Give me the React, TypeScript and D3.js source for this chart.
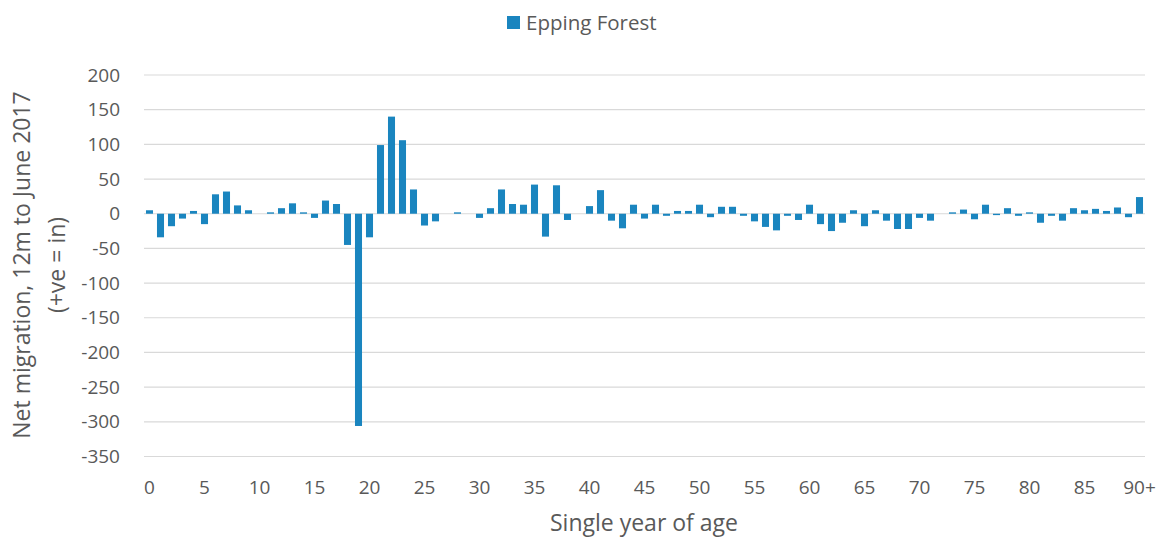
import React, { useEffect, useRef } from "react";
import * as d3 from "d3";

const categories: string[] = [...Array.from({ length: 90 }, (_, i) => String(i)), "90+"];

const values: number[] = [
  5, -34, -18, -7, 4, -15, 28, 32, 12, 5,
  0, 2, 8, 15, 2, -6, 19, 14, -45, -306,
  -34, 99, 140, 106, 35, -17, -11, 0, 2, 0,
  -6, 8, 35, 14, 13, 42, -33, 41, -9, 0,
  11, 34, -10, -21, 13, -7, 13, -3, 4, 4,
  13, -5, 10, 10, -3, -11, -19, -24, -3, -9,
  13, -15, -25, -13, 5, -18, 5, -10, -22, -22,
  -6, -10, 0, 2, 6, -8, 13, -2, 8, -3,
  2, -13, -3, -10, 8, 5, 7, 4, 9, -5,
  24,
];

const yTicks: number[] = [200, 150, 100, 50, 0, -50, -100, -150, -200, -250, -300, -350];
const seriesName = "Epping Forest";
const yTitle1 = "Net migration, 12m to June 2017";
const yTitle2 = "(+ve = in)";
const xTitle = "Single year of age";

export default function App() {
  const ref = useRef<SVGSVGElement>(null);

  useEffect(() => {
    const svg = d3.select(ref.current);
    svg.selectAll("*").remove();
    const W = 1162, H = 538;
    const left = 144, right = 1145, top = 75, bottom = 456.5;
    const font = "'Open Sans', sans-serif";
    const textColor = "#595959";
    const barColor = "#1A85BF";

    const x = d3.scaleBand<string>().domain(categories).range([left, right]).paddingInner(0.36).paddingOuter(0.18);
    const y = d3.scaleLinear().domain([-350, 200]).range([bottom, top]);

    // gridlines
    svg.append("g").selectAll("line").data(yTicks).join("line")
      .attr("x1", left).attr("x2", right)
      .attr("y1", (d) => y(d)).attr("y2", (d) => y(d))
      .attr("stroke", "#D9D9D9").attr("stroke-width", 1.2);

    // y tick labels
    svg.append("g").selectAll("text").data(yTicks).join("text")
      .attr("x", 120).attr("y", (d) => y(d)).attr("dy", "0.35em")
      .attr("text-anchor", "end").attr("font-family", font).attr("font-size", 19)
      .attr("fill", textColor).text((d) => String(d));

    // bars
    svg.append("g").selectAll("rect").data(values).join("rect")
      .attr("x", (_, i) => x(categories[i])!)
      .attr("width", x.bandwidth())
      .attr("y", (d) => y(Math.max(0, d)))
      .attr("height", (d) => Math.abs(y(d) - y(0)))
      .attr("fill", barColor);

    // x tick labels
    const labelled = categories.filter((_, i) => i % 5 === 0 || i === categories.length - 1);
    svg.append("g").selectAll("text").data(labelled).join("text")
      .attr("x", (d) => x(d)! + x.bandwidth() / 2).attr("y", 494)
      .attr("text-anchor", "middle").attr("font-family", font).attr("font-size", 19)
      .attr("fill", textColor).text((d) => d);

    // axis titles
    svg.append("text").attr("x", 644).attr("y", 531).attr("text-anchor", "middle")
      .attr("font-family", font).attr("font-size", 23).attr("fill", textColor).text(xTitle);

    const yt = svg.append("text").attr("transform", "translate(0,265) rotate(-90)")
      .attr("text-anchor", "middle").attr("font-family", font).attr("font-size", 23).attr("fill", textColor);
    yt.append("tspan").attr("x", 0).attr("y", 30).text(yTitle1);
    yt.append("tspan").attr("x", 0).attr("y", 65).text(yTitle2);

    // legend
    svg.append("rect").attr("x", 507).attr("y", 16).attr("width", 13).attr("height", 13).attr("fill", barColor);
    svg.append("text").attr("x", 526).attr("y", 29.5).attr("font-family", font).attr("font-size", 20.5)
      .attr("fill", textColor).text(seriesName);

    svg.attr("width", W).attr("height", H);
  }, []);

  return (
    <svg ref={ref} width={1162} height={538}
      style={{ position: "absolute", left: 0, top: 0, background: "#fff" }} />
  );
}
